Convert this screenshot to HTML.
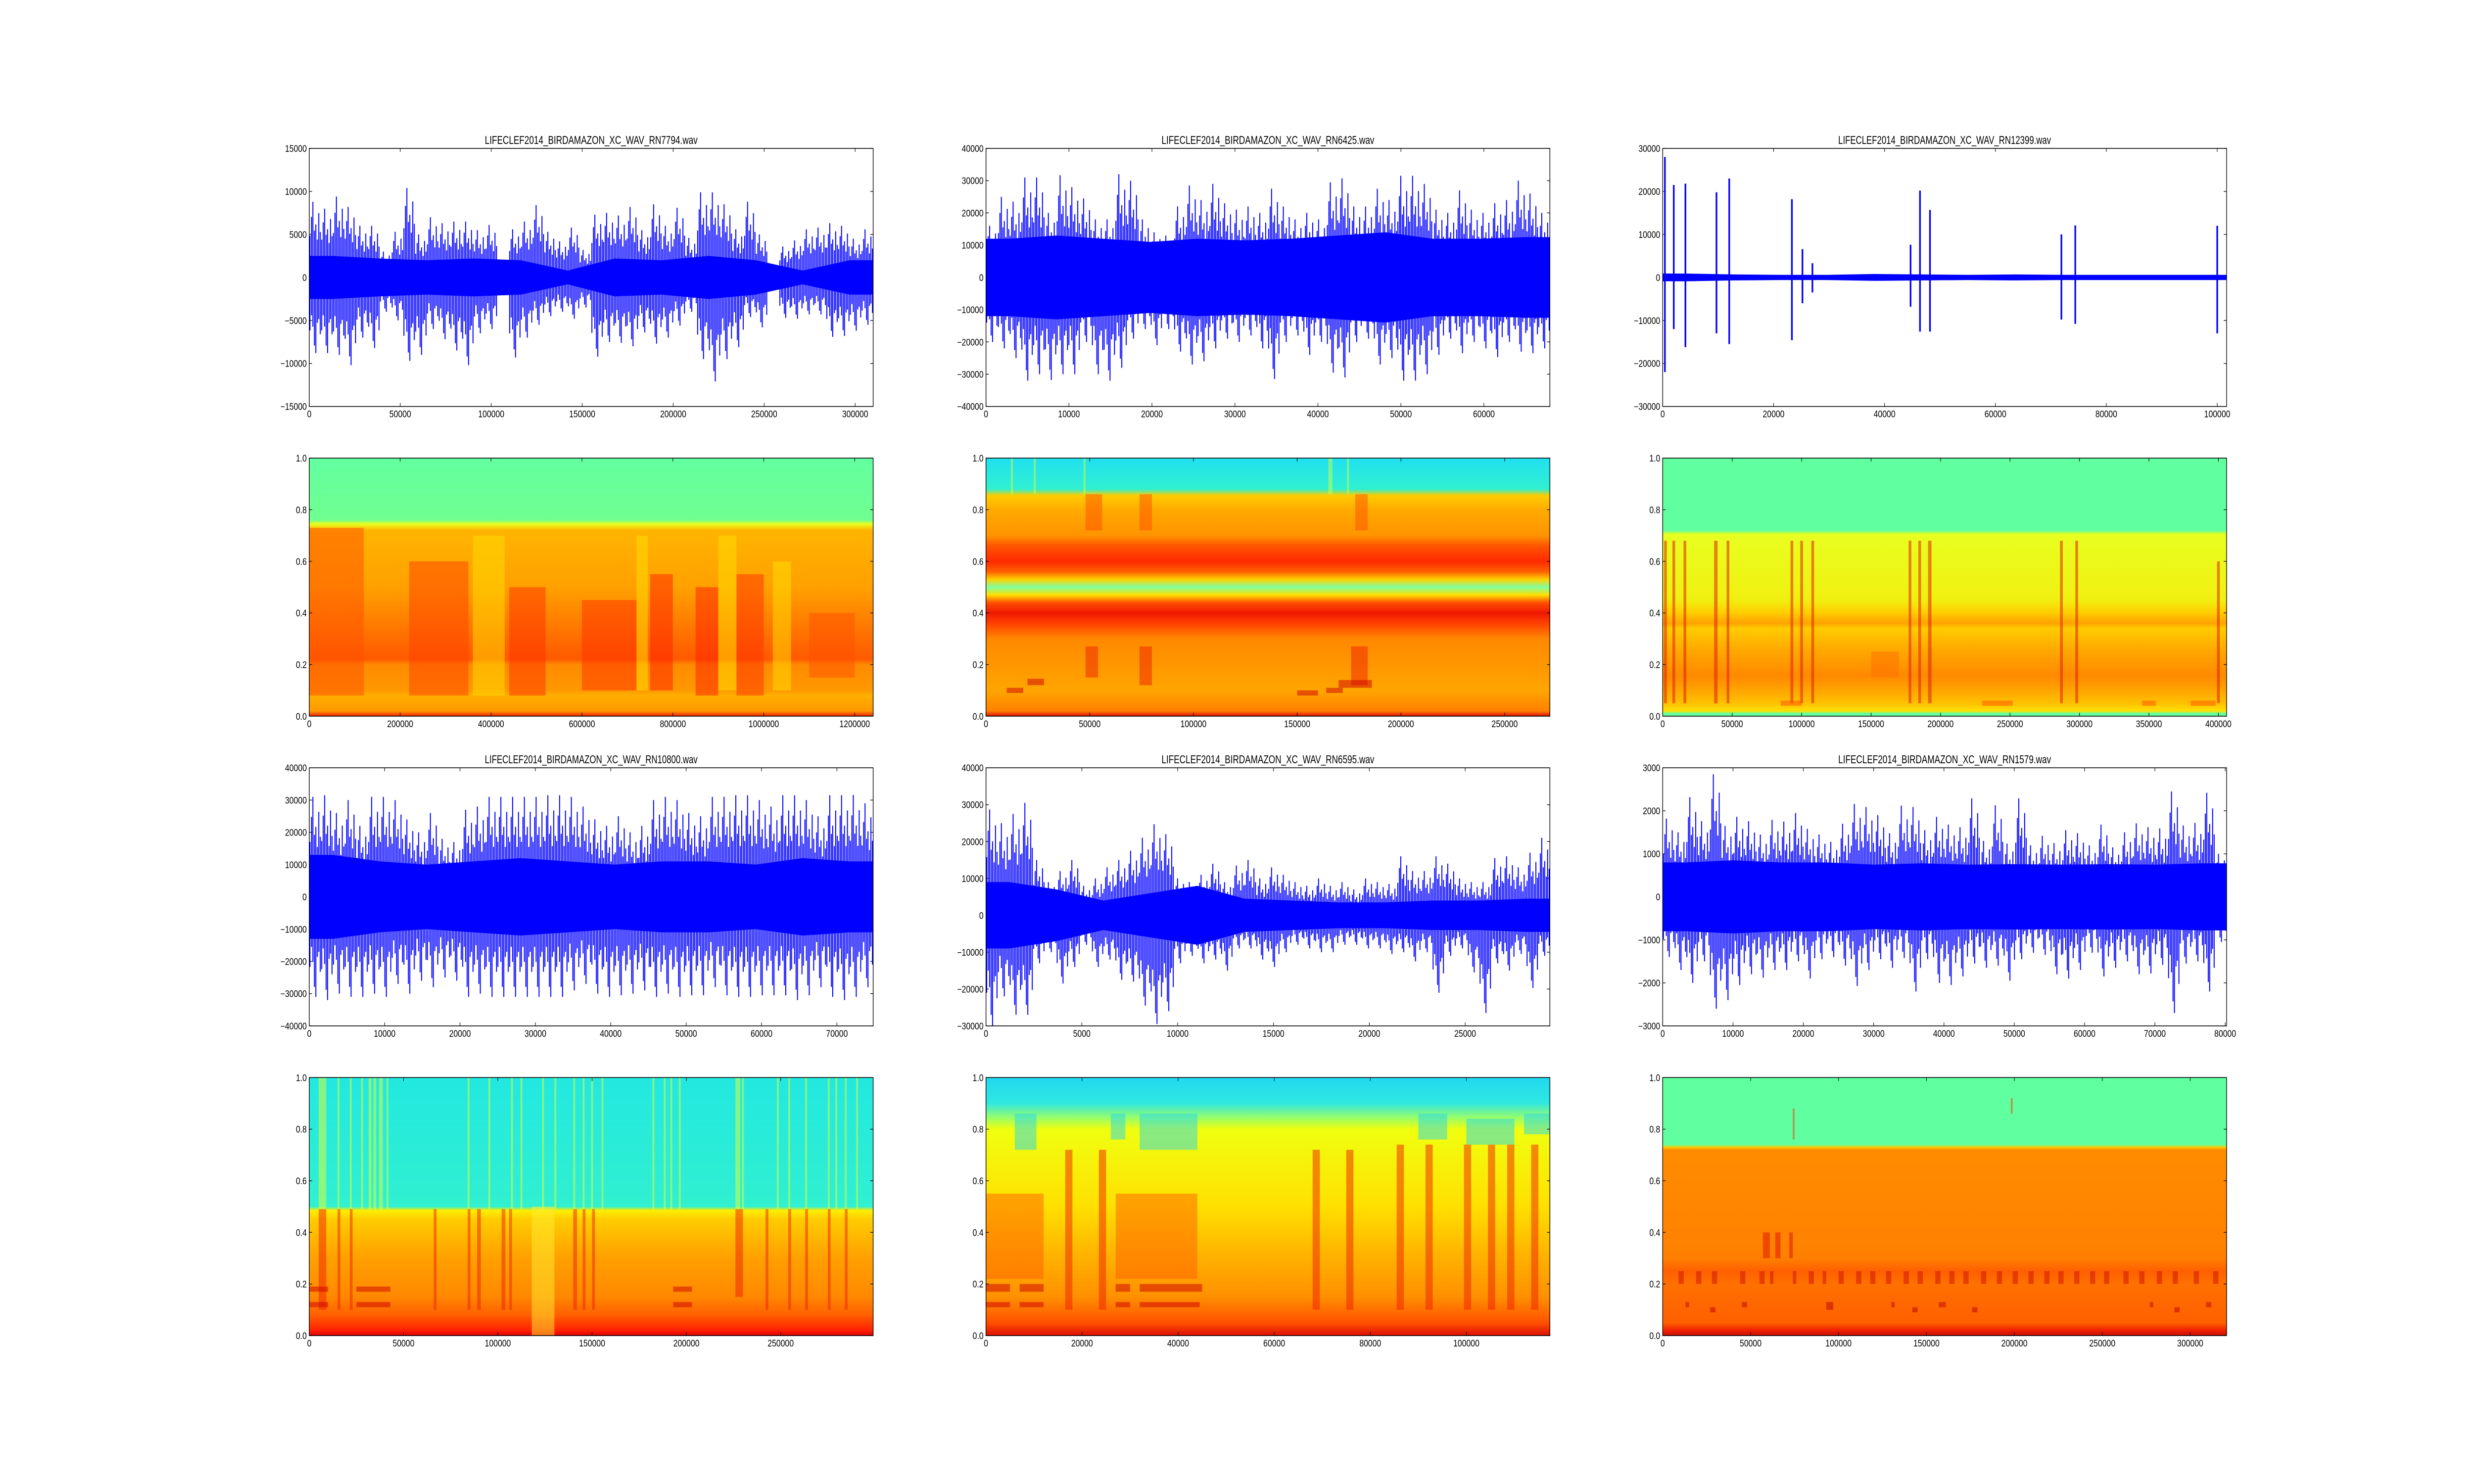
<!DOCTYPE html>
<html><head><meta charset="utf-8"><meta name="viewport" content="width=6000"><title>Bird recordings: waveforms and spectrograms</title>
<style>
html,body{margin:0;padding:0;background:#fff;width:100%;height:100%;overflow:hidden;}
svg{display:block;position:fixed;left:0;top:0;width:100vw;height:100vh;font-family:"Liberation Sans",sans-serif;}
</style></head>
<body>
<svg id="fig" xmlns="http://www.w3.org/2000/svg" viewBox="0 0 6000 3000" preserveAspectRatio="none">
<rect x="0" y="0" width="6000" height="3000" fill="#ffffff"/>
<defs id="defs"></defs>
</svg>
<script>
// ---------- Waveform data (peak amplitudes per segment) ----------
const w1Pos=[8800,8000,9400,8200,6000,6000,3000,5300,10400,5000,7000,6300,6500,6500,5500,6100,1000,5600,6500,8400,5300,4200,5800,3200,7300,7500,7200,8200,5500,8500,6000,8100,4600,9900,9900,8500,5600,8800,5000,1500,3600,4300,5600,5800,6300,6000,4500,5600];
const w1Neg=[-8800,-8800,-9000,-10200,-7000,-8200,-4000,-5000,-9700,-9000,-6000,-7200,-8500,-10200,-6500,-6000,-1200,-9300,-7000,-5500,-4500,-4000,-4800,-3500,-9200,-7500,-7600,-8000,-6400,-7700,-7000,-5600,-4000,-9500,-12100,-9500,-8100,-4600,-5800,-1200,-4700,-4800,-4300,-4300,-6900,-6800,-6200,-5500];
const w1Core=[2500,2200,2000,2200,2000,800,2200,2000,2500,2000,800,2000];
const w2Pos=[16000,25000,23500,31000,31000,20000,31700,28000,24500,18000,18000,32000,30000,18000,14000,13000,22000,28500,24000,29000,23000,21000,22000,20000,27500,22000,18000,20000,18000,29500,30700,22000,22000,27500,24000,31500,31500,29000,21000,20000,27000,21000,20000,23000,24000,30000,26000,20000];
const w2Neg=[-20000,-22000,-25000,-32000,-30000,-31800,-30000,-30000,-20000,-30000,-32000,-28000,-19000,-16000,-21000,-16000,-23000,-27000,-26000,-22000,-19000,-20000,-18000,-22000,-31500,-20000,-18000,-24000,-20000,-29500,-31000,-20000,-19000,-27000,-25000,-32000,-32000,-30000,-24000,-19000,-23500,-20000,-22000,-24700,-20000,-23000,-23500,-22000];
const w2Core=[12000,13000,12000,11000,12000,11500,12000,13000,14000,12000,12000,12500];
const w3SpikeX=[400,2000,4100,9700,12000,23300,25200,27000,44700,46400,48200,71900,74400,100000];
const w3SpikePos=[28000,21500,21800,19800,23000,18200,6600,3300,7600,20200,15700,10000,12100,12000];
const w3SpikeNeg=[-22000,-12000,-16200,-13000,-15500,-14600,-6000,-3500,-6800,-12600,-12600,-9800,-10800,-13000];
const w3Core=[900,700,600,600,800,700,600,700,600,600,600,600];
const w4Pos=[31000,31500,26000,30000,22000,31000,31000,30000,24000,20000,26000,18000,17000,27000,28000,31000,31000,31000,31000,31000,31500,31500,31000,28000,24000,22000,25000,20000,22000,30000,31000,30000,26000,25000,31000,31000,31500,31500,30000,28000,31500,31500,30000,25000,31500,31500,31600,29000];
const w4Neg=[-31000,-32000,-30000,-31000,-31000,-30000,-31000,-27000,-30000,-26000,-28000,-25000,-26000,-31000,-30000,-31000,-31000,-31000,-31000,-31000,-31000,-31000,-29000,-27000,-30000,-31000,-30500,-30000,-29000,-31000,-30000,-31000,-30500,-30500,-28000,-30500,-31000,-31000,-30500,-30500,-30500,-32000,-30500,-28000,-31000,-32000,-31000,-28000];
const w4Core=[13000,11000,10000,11000,12000,11000,10000,11000,11000,10000,12000,11000];
const w5Pos=[28700,25000,27500,30500,15000,9000,12000,15000,8000,10000,13000,15000,17500,21000,24700,22000,10000,9000,11000,14000,9000,13500,15000,10000,13000,11000,9000,8000,10000,8000,9000,7000,10000,9000,8500,16000,12000,12000,16000,14000,10000,9000,9000,15500,16000,13000,17000,21000];
const w5Neg=[-30000,-22000,-27000,-27000,-13000,-10000,-18500,-14000,-8000,-14000,-12000,-17500,-18000,-24500,-29500,-26000,-13000,-11000,-13000,-12000,-15000,-9000,-9000,-12000,-14000,-10000,-8000,-9000,-10000,-10000,-8000,-8000,-9000,-9000,-10500,-10000,-12500,-10000,-21000,-11000,-9000,-15500,-26500,-13000,-15000,-10500,-19700,-11000];
const w5Core=[9000,7000,4000,6000,8000,4500,4000,3500,3500,4000,4000,4500];
const w6Pos=[1820,1500,2320,1760,2850,1650,1860,1760,1450,1790,1750,1950,1580,1450,1280,1700,2160,2090,1900,1480,2120,2090,1550,1860,1680,1620,2290,1300,2130,1240,2290,1200,1420,1250,1550,1480,1200,1680,1150,1500,1710,1620,1590,2450,1660,1720,2420,1000];
const w6Neg=[-1400,-1700,-2000,-1500,-2600,-2400,-2050,-1800,-1880,-1700,-1700,-1500,-1900,-1450,-1400,-1600,-2070,-1700,-1450,-1650,-1420,-2200,-1450,-2000,-2050,-1850,-1550,-1650,-1600,-1950,-1450,-1300,-1350,-1800,-1900,-1700,-1300,-1850,-1650,-1500,-1800,-1780,-1580,-2700,-1550,-1500,-2200,-1050];
const w6Core=[800,850,800,800,750,780,750,760,750,760,750,780];

// ---------- Spectrogram data: frequency stops [freq, colour] ----------
const s1Stops=[[0,'#ee2000'],[0.02,'#ff9a00'],[0.08,'#ffae00'],[0.1,'#ff9800'],[0.2,'#ff8a00'],[0.22,'#ff5a00'],[0.25,'#ff6000'],[0.35,'#ff7a00'],[0.5,'#ffa000'],[0.72,'#ffb400'],[0.745,'#e8ff20'],[0.76,'#70ff90'],[1,'#62ffa0']];
const s2Stops=[[0,'#dd1000'],[0.02,'#ff8000'],[0.1,'#ffa500'],[0.3,'#ff8800'],[0.36,'#ff4000'],[0.4,'#ee1800'],[0.44,'#ff5000'],[0.47,'#ffe000'],[0.5,'#80ffa0'],[0.53,'#ffd000'],[0.56,'#ff6000'],[0.6,'#ff2a00'],[0.66,'#ff5500'],[0.7,'#ff9400'],[0.8,'#ffaa00'],[0.855,'#ffcc00'],[0.88,'#30f0d0'],[1,'#20e0f0']];
const s3Stops=[[0,'#60ffa0'],[0.01,'#60ffa0'],[0.02,'#ffe000'],[0.05,'#ffc000'],[0.14,'#ff9000'],[0.16,'#ff8a00'],[0.26,'#ffaa00'],[0.34,'#ffcc00'],[0.36,'#ffa400'],[0.4,'#ffcc00'],[0.45,'#f0f010'],[0.705,'#e8ff20'],[0.72,'#60ffa0'],[1,'#60ffa0']];
const s4Stops=[[0,'#dd0000'],[0.02,'#ff2000'],[0.08,'#ff6000'],[0.15,'#ff8800'],[0.3,'#ffa000'],[0.45,'#ffcc00'],[0.485,'#ffee00'],[0.5,'#30f0d0'],[1,'#22e8e0']];
const s5Stops=[[0,'#dd1000'],[0.05,'#ff5000'],[0.15,'#ff9000'],[0.3,'#ffb000'],[0.5,'#ffe000'],[0.8,'#f0ff10'],[0.84,'#a0ff60'],[0.9,'#30e8e0'],[1,'#20d8f0']];
const s6Stops=[[0,'#cc1000'],[0.02,'#ee2000'],[0.05,'#ff6000'],[0.2,'#ff7000'],[0.25,'#ff6000'],[0.3,'#ff8000'],[0.72,'#ff8c00'],[0.73,'#ffcc00'],[0.74,'#60ffa0'],[1,'#60ffa0']];

// ---------- Spectrogram features [x0, x1, f0, f1, colour] ----------
const s1Feat=[[0,120000,0.08,0.73,'#ff5000'],[220000,350000,0.08,0.6,'#ff4000'],[360000,430000,0.08,0.7,'#ffdd00'],[440000,520000,0.08,0.5,'#ff3000'],[600000,720000,0.1,0.45,'#ff3000'],[720000,745000,0.1,0.7,'#ffe000'],[750000,800000,0.1,0.55,'#ff2000'],[850000,900000,0.08,0.5,'#ff2000'],[900000,940000,0.1,0.7,'#ffe000'],[940000,1000000,0.08,0.55,'#ff3000'],[1020000,1060000,0.1,0.6,'#ffe000'],[1100000,1200000,0.15,0.4,'#ff5000']];
const s2Feat=[[48000,56000,0.72,0.86,'#ff5000'],[74000,80000,0.72,0.86,'#ff5000'],[178000,184000,0.72,0.86,'#ff5000'],[48000,54000,0.15,0.27,'#ee2000'],[74000,80000,0.12,0.27,'#ee2000'],[176000,184000,0.12,0.27,'#ee2000'],[10000,18000,0.09,0.11,'#cc0000'],[20000,28000,0.12,0.145,'#cc0000'],[150000,160000,0.08,0.1,'#cc0000'],[164000,172000,0.09,0.11,'#cc0000'],[170000,186000,0.11,0.14,'#cc0000'],[12000,13000,0.86,1,'#d0ff40'],[23000,24000,0.86,1,'#d0ff40'],[47000,48000,0.86,1,'#d0ff40'],[165000,167000,0.86,1,'#d0ff40'],[174000,175000,0.86,1,'#d0ff40']];
const s3Feat=[[1000,3000,0.05,0.68,'#dd1000'],[7000,9000,0.05,0.68,'#dd1000'],[15000,17000,0.05,0.68,'#dd1000'],[37000,39500,0.05,0.68,'#dd1000'],[46000,48000,0.05,0.68,'#dd1000'],[92000,94000,0.05,0.68,'#dd1000'],[99000,101000,0.05,0.68,'#dd1000'],[107000,109000,0.05,0.68,'#dd1000'],[177000,179000,0.05,0.68,'#dd1000'],[184000,186000,0.05,0.68,'#dd1000'],[191000,193500,0.05,0.68,'#dd1000'],[286000,288000,0.05,0.68,'#dd1000'],[297000,299000,0.05,0.68,'#dd1000'],[399000,401000,0.05,0.6,'#dd1000'],[85000,100000,0.04,0.06,'#ff5000'],[230000,252000,0.04,0.06,'#ff5000'],[345000,355000,0.04,0.06,'#ff5000'],[380000,398000,0.04,0.06,'#ff5000'],[150000,170000,0.15,0.25,'#ff7000']];
const s4Feat=[[5000,9000,0.49,1,'#e8ff30'],[15000,16000,0.49,1,'#e8ff30'],[21500,22500,0.49,1,'#e8ff30'],[27500,28500,0.49,1,'#e8ff30'],[31500,33000,0.49,1,'#e8ff30'],[34000,35500,0.49,1,'#e8ff30'],[37000,39000,0.49,1,'#e8ff30'],[41000,42000,0.49,1,'#e8ff30'],[84000,85000,0.49,1,'#e8ff30'],[95000,96000,0.49,1,'#e8ff30'],[107000,108000,0.49,1,'#e8ff30'],[112000,113000,0.49,1,'#e8ff30'],[123500,124500,0.49,1,'#e8ff30'],[130000,131000,0.49,1,'#e8ff30'],[140000,141000,0.49,1,'#e8ff30'],[145000,146000,0.49,1,'#e8ff30'],[149500,150500,0.49,1,'#e8ff30'],[155000,156000,0.49,1,'#e8ff30'],[182000,183000,0.49,1,'#e8ff30'],[188000,189000,0.49,1,'#e8ff30'],[191500,192500,0.49,1,'#e8ff30'],[196000,197000,0.49,1,'#e8ff30'],[226000,228500,0.49,1,'#e8ff30'],[229500,230500,0.49,1,'#e8ff30'],[248000,249000,0.49,1,'#e8ff30'],[254000,255000,0.49,1,'#e8ff30'],[263000,264000,0.49,1,'#e8ff30'],[275000,276000,0.49,1,'#e8ff30'],[279000,280000,0.49,1,'#e8ff30'],[284000,285000,0.49,1,'#e8ff30'],[290000,291000,0.49,1,'#e8ff30'],
[5000,9000,0.1,0.49,'#ee2000'],[15000,16500,0.1,0.49,'#ee2000'],[21500,23000,0.1,0.49,'#ee2000'],[66000,67500,0.1,0.49,'#ee2000'],[84000,85500,0.1,0.49,'#ee2000'],[89000,91000,0.1,0.49,'#ee2000'],[102000,104000,0.1,0.49,'#ee2000'],[106000,107500,0.1,0.49,'#ee2000'],[140000,142000,0.1,0.49,'#ee2000'],[145000,146500,0.1,0.49,'#ee2000'],[150000,151500,0.1,0.49,'#ee2000'],[226000,230000,0.15,0.49,'#ee2000'],[242000,243500,0.1,0.49,'#ee2000'],[254000,255500,0.1,0.49,'#ee2000'],[263000,264500,0.1,0.49,'#ee2000'],[275000,276500,0.1,0.49,'#ee2000'],[284000,285500,0.1,0.49,'#ee2000'],
[0,10000,0.11,0.13,'#cc0000'],[0,10000,0.17,0.19,'#cc0000'],[25000,43000,0.11,0.13,'#cc0000'],[25000,43000,0.17,0.19,'#cc0000'],[193000,203000,0.11,0.13,'#cc0000'],[193000,203000,0.17,0.19,'#cc0000'],[118000,130000,0,0.5,'#ffee30']];
const s5Feat=[[6000,10500,0.72,0.86,'#22d8f0'],[32000,44000,0.72,0.86,'#22d8f0'],[26000,29000,0.76,0.86,'#22d8f0'],[90000,96000,0.76,0.86,'#22d8f0'],[100000,110000,0.74,0.84,'#22d8f0'],[112000,117400,0.78,0.86,'#22d8f0'],
[16500,18000,0.1,0.72,'#ee2000'],[23500,25000,0.1,0.72,'#ee2000'],[68000,69500,0.1,0.72,'#ee2000'],[75000,76500,0.1,0.72,'#ee2000'],[85500,87000,0.1,0.74,'#ee2000'],[91500,93000,0.1,0.74,'#ee2000'],[99500,101000,0.1,0.74,'#ee2000'],[104500,106000,0.1,0.74,'#ee2000'],[108500,110000,0.1,0.74,'#ee2000'],[113500,115000,0.1,0.74,'#ee2000'],
[0,5000,0.11,0.13,'#cc0000'],[7000,12000,0.11,0.13,'#cc0000'],[27000,30000,0.11,0.13,'#cc0000'],[32000,44500,0.11,0.13,'#cc0000'],[0,5000,0.17,0.2,'#cc0000'],[7000,12000,0.17,0.2,'#cc0000'],[27000,30000,0.17,0.2,'#cc0000'],[32000,45000,0.17,0.2,'#cc0000'],[0,12000,0.22,0.55,'#ff6000'],[27000,44000,0.22,0.55,'#ff6000']];
const s6Feat=[[9000,12000,0.2,0.25,'#cc1000'],[19000,22000,0.2,0.25,'#cc1000'],[28000,31000,0.2,0.25,'#cc1000'],[44000,47000,0.2,0.25,'#cc1000'],[55000,58000,0.2,0.25,'#cc1000'],[61000,63000,0.2,0.25,'#cc1000'],[74000,76000,0.2,0.25,'#cc1000'],[83000,86000,0.2,0.25,'#cc1000'],[91000,93000,0.2,0.25,'#cc1000'],[100000,103000,0.2,0.25,'#cc1000'],[110000,113000,0.2,0.25,'#cc1000'],[118000,121000,0.2,0.25,'#cc1000'],[127000,130000,0.2,0.25,'#cc1000'],[137000,140000,0.2,0.25,'#cc1000'],[145000,148000,0.2,0.25,'#cc1000'],[155000,158000,0.2,0.25,'#cc1000'],[163000,166000,0.2,0.25,'#cc1000'],[171000,174000,0.2,0.25,'#cc1000'],[181000,184000,0.2,0.25,'#cc1000'],[190000,193000,0.2,0.25,'#cc1000'],[199000,202000,0.2,0.25,'#cc1000'],[208000,211000,0.2,0.25,'#cc1000'],[217000,220000,0.2,0.25,'#cc1000'],[225000,228000,0.2,0.25,'#cc1000'],[234000,237000,0.2,0.25,'#cc1000'],[243000,246000,0.2,0.25,'#cc1000'],[251000,254000,0.2,0.25,'#cc1000'],[262000,265000,0.2,0.25,'#cc1000'],[271000,274000,0.2,0.25,'#cc1000'],[281000,284000,0.2,0.25,'#cc1000'],[290000,293000,0.2,0.25,'#cc1000'],[302000,305000,0.2,0.25,'#cc1000'],[313000,316000,0.2,0.25,'#cc1000'],
[13000,15000,0.11,0.13,'#bb0000'],[27000,30000,0.09,0.11,'#bb0000'],[45000,48000,0.11,0.13,'#bb0000'],[93000,97000,0.1,0.13,'#bb0000'],[130000,132000,0.11,0.13,'#bb0000'],[142000,145000,0.09,0.11,'#bb0000'],[157000,161000,0.11,0.13,'#bb0000'],[176000,179000,0.09,0.11,'#bb0000'],[277000,279000,0.11,0.13,'#bb0000'],[291000,294000,0.09,0.11,'#bb0000'],[309000,312000,0.11,0.13,'#bb0000'],
[57000,61000,0.3,0.4,'#dd1000'],[64000,67000,0.3,0.4,'#dd1000'],[72000,74000,0.3,0.4,'#dd1000'],[74000,75000,0.76,0.88,'#ff3000'],[198000,199000,0.86,0.92,'#ff3000']];

// ---------- Axis ticks / limits ----------
const titles=['LIFECLEF2014_BIRDAMAZON_XC_WAV_RN7794.wav','LIFECLEF2014_BIRDAMAZON_XC_WAV_RN6425.wav','LIFECLEF2014_BIRDAMAZON_XC_WAV_RN12399.wav','LIFECLEF2014_BIRDAMAZON_XC_WAV_RN10800.wav','LIFECLEF2014_BIRDAMAZON_XC_WAV_RN6595.wav','LIFECLEF2014_BIRDAMAZON_XC_WAV_RN1579.wav'];
const waveXMax=[309900,67950,101690,74810,29420,80200];
const waveYMin=[-15000,-40000,-30000,-40000,-30000,-3000];
const waveYMax=[15000,40000,30000,40000,40000,3000];
const waveYStep=[5000,10000,10000,10000,10000,1000];
const waveXStep=[50000,10000,20000,10000,5000,10000];
const specXMax=[1240700,271800,405900,299050,117390,320700];
const specXStep=[200000,50000,50000,50000,20000,50000];
const specYTicks=[0,0.2,0.4,0.6,0.8,1.0];

// ---------- Layout ----------
const NS='http://www.w3.org/2000/svg';
const svg=document.getElementById('fig');
const defs=document.getElementById('defs');
const colX=[750,2391.2,4032.4], AW=1367.6, rowY=[300,926.1,1552.2,2178.3], AH=521.7;

function mk(tag,attrs,parent){const e=document.createElementNS(NS,tag);for(const k in attrs)e.setAttribute(k,attrs[k]);(parent||svg).appendChild(e);return e;}
function fmt(v,dec){let s=dec?v.toFixed(1):String(Math.round(v));return s.replace('-','\u2212');}

function axes(x0,y0,xmax,ymin,ymax,xstep,yticks,dec,name){
  const g=mk('g',{});
  
  
  const xs=v=>x0+v/xmax*AW, ys=v=>y0+AH-(v-ymin)/(ymax-ymin)*AH;
  const xt=mk('g',{},g);
  
  
  for(let v=0;v<=xmax+1e-6;v+=xstep){
    const x=xs(v);
    mk('line',{x1:x,x2:x,y1:y0+AH,y2:y0+AH-7,stroke:'#000','stroke-width':1.3},xt);
    mk('line',{x1:x,x2:x,y1:y0,y2:y0+7,stroke:'#000','stroke-width':1.3},xt);
    const t=mk('text',{x:x,y:y0+AH+22,'font-size':19,'text-anchor':'middle',fill:'#000'},xt);
    t.textContent=fmt(v,false);
  }
  const yt=mk('g',{},g);
  
  
  yticks.forEach(v=>{
    const y=ys(v);
    mk('line',{x1:x0,x2:x0+7,y1:y,y2:y,stroke:'#000','stroke-width':1.3},yt);
    mk('line',{x1:x0+AW,x2:x0+AW-7,y1:y,y2:y,stroke:'#000','stroke-width':1.3},yt);
    const t=mk('text',{x:x0-6,y:y+7,'font-size':19,'text-anchor':'end',fill:'#000'},yt);
    t.textContent=fmt(v,dec);
  });
  return {xs,ys,g};
}
function frame(x0,y0,name){
  const r=mk('rect',{x:x0,y:y0,width:AW,height:AH,fill:'none',stroke:'#000','stroke-width':1.6});
  
  
}
function clip(id,x0,y0){const c=mk('clipPath',{id:id},defs);mk('rect',{x:x0,y:y0,width:AW,height:AH},c);}

function drawWave(i,pos,neg,core){
  const col=i%3, row=i<3?0:2, x0=colX[col], y0=rowY[row], name='wave-'+(i+1);
  const yt=[];for(let v=waveYMin[i];v<=waveYMax[i];v+=waveYStep[i])yt.push(v);
  clip('c'+name,x0,y0);
  const ax=axes(x0,y0,waveXMax[i],waveYMin[i],waveYMax[i],waveXStep[i],yt,false,name);
  const g=mk('g',{'clip-path':'url(#c'+name+')'});
  
  
  const xmax=waveXMax[i];
  const n=core.length, seg=xmax/n;
  let top=[ax.xs(0)+','+ax.ys(core[0])],bot=[ax.xs(0)+','+ax.ys(-core[0])];
  for(let k=0;k<n;k++){top.push(ax.xs((k+0.5)*seg)+','+ax.ys(core[k]));bot.push(ax.xs((k+0.5)*seg)+','+ax.ys(-core[k]));}
  top.push(ax.xs(xmax)+','+ax.ys(core[n-1]));bot.push(ax.xs(xmax)+','+ax.ys(-core[n-1]));
  const band=mk('polygon',{points:top.concat(bot.reverse()).join(' '),fill:'#0000ff'},g);
  
  
  if(pos){
    const N=pos.length, sw=xmax/N;
    const fr=[0.06,0.19,0.31,0.44,0.56,0.69,0.81,0.94], kp=[0.55,0.8,1,0.62,0.7,0.5,0.85,0.6], kn=[0.7,0.5,0.65,0.9,1,0.6,0.55,0.75];
    for(let k=0;k<N;k++){
      for(let j=0;j<fr.length;j++){
        const x=ax.xs((k+fr[j])*sw);
        mk('line',{x1:x,x2:x,y1:ax.ys(pos[k]*kp[j]),y2:ax.ys(neg[k]*kn[j]),stroke:'#0000ff','stroke-width':2.4},g);
      }
    }
  }
  return {ax,g};
}
function drawSpec(i,stops,feat){
  const col=i%3, row=i<3?1:3, x0=colX[col], y0=rowY[row], name='spectrogram-'+(i+1);
  clip('c'+name,x0,y0);
  const gr=mk('linearGradient',{id:'g'+name,x1:0,y1:1,x2:0,y2:0},defs);
  stops.forEach(s=>mk('stop',{offset:s[0],'stop-color':s[1]},gr));
  const ax={xs:v=>x0+v/specXMax[i]*AW, ys:v=>y0+AH-v*AH};
  const g=mk('g',{'clip-path':'url(#c'+name+')'});
  
  
  mk('rect',{x:x0,y:y0,width:AW,height:AH,fill:'url(#g'+name+')'},g);
  feat.forEach(f=>{
    const xa=ax.xs(f[0]), xb=ax.xs(f[1]);
    const r=mk('rect',{x:xa,y:ax.ys(f[3]),width:Math.max(xb-xa,3),height:ax.ys(f[2])-ax.ys(f[3]),fill:f[4],opacity:0.5},g);
    
    
  });
  axes(x0,y0,specXMax[i],0,1,specXStep[i],specYTicks,true,name);
  frame(x0,y0,name);
}

// ---------- Build ----------
const wp=[w1Pos,w2Pos,null,w4Pos,w5Pos,w6Pos], wn=[w1Neg,w2Neg,null,w4Neg,w5Neg,w6Neg], wc=[w1Core,w2Core,w3Core,w4Core,w5Core,w6Core];
for(let i=0;i<6;i++){
  const r=drawWave(i,wp[i],wn[i],wc[i]);
  if(i===2){
    w3SpikeX.forEach((sx,k)=>{
      const x=r.ax.xs(sx);
      const l=mk('line',{x1:x,x2:x,y1:r.ax.ys(w3SpikePos[k]),y2:r.ax.ys(w3SpikeNeg[k]),stroke:'#0000ff','stroke-width':4},r.g);
      
      
    });
  }
  frame(colX[i%3],rowY[i<3?0:2],'wave-'+(i+1));
  const t=mk('text',{x:colX[i%3]+AW/2,y:rowY[i<3?0:2]-9,'font-size':23,'text-anchor':'middle',fill:'#000',textLength:516,lengthAdjust:'spacingAndGlyphs'});
  
  
  t.textContent=titles[i];
}
const ss=[s1Stops,s2Stops,s3Stops,s4Stops,s5Stops,s6Stops], sf=[s1Feat,s2Feat,s3Feat,s4Feat,s5Feat,s6Feat];
for(let i=0;i<6;i++)drawSpec(i,ss[i],sf[i]);
</script>
</body></html>
